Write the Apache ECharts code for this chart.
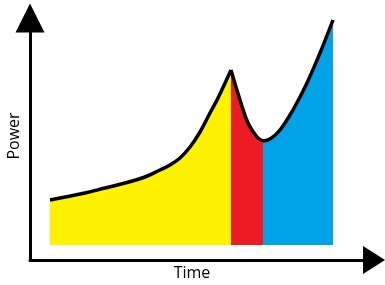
<!DOCTYPE html>
<html>
<head>
<meta charset="utf-8">
<script src="https://cdn.jsdelivr.net/npm/echarts@6/dist/echarts.min.js"></script>
<style>
  html, body { margin: 0; padding: 0; background: #fff; }
  #chart { width: 385px; height: 285px; }
</style>
</head>
<body>
<div id="chart"></div>
<script>
// segment data (time, power)
const yellowTime = [20, 55, 75, 95, 115, 130, 140, 150, 160, 170, 180, 188, 201];
const yellowPower = [60, 67, 72, 77, 83, 90, 95, 102, 113, 128, 147, 162, 190];
const redTime = [201, 210, 218, 227, 233];
const redPower = [190, 160, 137, 123, 119];
const blueTime = [233, 240, 250, 263, 277, 290, 303];
const bluePower = [119, 121, 130, 150, 177, 207, 240];
const baseLevel = 15;

const xName = 'Time';
const yName = 'Power';

function pairs(xs, ys) {
  return xs.map((x, i) => [x, ys[i]]);
}

function segment(name, xs, ys, color) {
  return {
    name: name,
    type: 'line',
    data: pairs(xs, ys),
    smooth: 0.4,
    showSymbol: false,
    lineStyle: { color: '#000', width: 3.5 },
    areaStyle: { color: color, opacity: 1, origin: baseLevel },
    z: 2
  };
}

const chart = echarts.init(document.getElementById('chart'), null, { renderer: 'canvas' });

chart.setOption({
  animation: false,
  backgroundColor: '#fff',
  grid: { left: 30, right: 11, top: 18, bottom: 25 },
  xAxis: {
    type: 'value',
    min: 0,
    max: 344,
    axisLine: {
      lineStyle: { color: '#000', width: 3 },
      symbol: ['none', 'triangle'],
      symbolSize: [28, 22]
    },
    axisTick: { show: false },
    axisLabel: { show: false },
    splitLine: { show: false }
  },
  yAxis: {
    type: 'value',
    min: 0,
    max: 242,
    axisLine: {
      show: true,
      lineStyle: { color: '#000', width: 3 },
      symbol: ['none', 'triangle'],
      symbolSize: [29, 29]
    },
    axisTick: { show: false },
    axisLabel: { show: false },
    splitLine: { show: false }
  },
  graphic: [
    {
      type: 'text',
      x: 192,
      y: 273,
      style: {
        text: xName,
        font: '16px "Open Sans", sans-serif',
        fill: '#000',
        align: 'center',
        verticalAlign: 'middle'
      }
    },
    {
      type: 'text',
      x: 14,
      y: 136,
      rotation: Math.PI / 2,
      style: {
        text: yName,
        font: '16px "Open Sans", sans-serif',
        fill: '#000',
        align: 'center',
        verticalAlign: 'middle'
      }
    }
  ],
  series: [
    segment('yellow', yellowTime, yellowPower, '#FFF200'),
    segment('red', redTime, redPower, '#ED1C24'),
    segment('blue', blueTime, bluePower, '#00A2E8')
  ]
});
</script>
</body>
</html>
